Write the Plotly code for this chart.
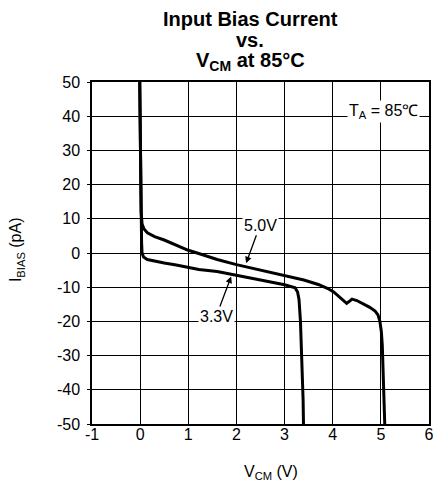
import plotly.graph_objects as go

# 5.0 V supply curve
v5_x = [-0.01, 0.0, 0.01, 0.02, 0.04, 0.08, 0.15, 0.3, 0.5, 0.75, 1.0, 1.25, 1.6, 2.0, 2.5, 3.0,
        3.4, 3.7, 3.9, 4.02, 4.15, 4.29, 4.34, 4.40, 4.5, 4.65, 4.77, 4.88, 4.94, 4.98, 5.01,
        5.03, 5.05, 5.07, 5.085]
v5_y = [52, 35, 20, 12, 8.5, 7.0, 5.9, 4.8, 3.8, 2.2, 0.8, -0.3, -1.9, -3.4, -5.0, -6.6,
        -7.9, -9.2, -10.4, -11.4, -13.0, -14.7, -14.2, -13.5, -13.9, -14.9, -15.9, -17.0, -18.1, -20, -23,
        -27, -35, -43, -52]

# 3.3 V supply curve
v33_x = [-0.01, 0.0, 0.01, 0.02, 0.03, 0.04, 0.07, 0.15, 0.3, 0.5, 0.75, 1.0, 1.22, 1.6, 2.0,
         2.5, 3.0, 3.15, 3.22, 3.27, 3.30, 3.33, 3.35, 3.37, 3.385, 3.395]
v33_y = [52, 35, 20, 10, 3, 0, -1.2, -1.9, -2.4, -2.9, -3.5, -4.2, -4.8, -5.4, -6.6,
         -7.9, -9.3, -9.8, -10.2, -11.4, -13.6, -20, -27, -35, -43, -52]

x_ticks = [-1, 0, 1, 2, 3, 4, 5, 6]
y_ticks = [-50, -40, -30, -20, -10, 0, 10, 20, 30, 40, 50]

FONT = "Liberation Sans, Arial, sans-serif"

fig = go.Figure()
fig.add_trace(go.Scatter(x=v5_x, y=v5_y, mode="lines", line=dict(color="black", width=3),
                         showlegend=False, hoverinfo="skip"))
fig.add_trace(go.Scatter(x=v33_x, y=v33_y, mode="lines", line=dict(color="black", width=3),
                         showlegend=False, hoverinfo="skip"))

axis_common = dict(showgrid=True, gridcolor="black", gridwidth=1, zeroline=False,
                   showline=True, linecolor="black", linewidth=1.5, mirror=True,
                   tickcolor="black",
                   tickfont=dict(family=FONT, size=16, color="black"))

fig.update_xaxes(range=[-1, 6], tickvals=x_ticks, ticktext=[str(t) for t in x_ticks],
                 ticks="", ticklabelstandoff=-5, **axis_common)
fig.update_yaxes(range=[-50, 50], tickvals=y_ticks, ticktext=[str(t) for t in y_ticks],
                 ticks="outside", ticklen=3, ticklabelstandoff=4, **axis_common)

def txt(text, x, y, size=16, **kw):
    d = dict(text=text, x=x, y=y, xref="paper", yref="paper", showarrow=False,
             xanchor="center", yanchor="middle",
             font=dict(family=FONT, size=size, color="black"))
    d.update(kw)
    return d

annos = [
    txt("<b>Input Bias Current</b>", 0.469, 1.184, size=20),
    txt("<b>vs.</b>", 0.469, 1.122, size=20),
    txt("<b>V<sub>CM</sub> at 85°C</b>", 0.469, 1.060, size=20),
    txt("V<sub>CM</sub> (V)", 0.532, -0.143),
    txt("I<sub>BIAS</sub> (pA)", -0.222, 0.509, textangle=-90),
    dict(text="T<sub>A</sub> = 85℃", x=5.05, y=41.5, xref="x", yref="y", showarrow=False,
         bgcolor="white", font=dict(family=FONT, size=16, color="black")),
    dict(text="5.0V", x=2.2, y=-3.0, xref="x", yref="y", ax=14, ay=-38, showarrow=True,
         arrowhead=2, arrowsize=1, arrowwidth=1.3, arrowcolor="black", standoff=0,
         bgcolor="white", font=dict(family=FONT, size=16, color="black")),
    dict(text="3.3V", x=1.89, y=-6.9, xref="x", yref="y", ax=-15, ay=40, showarrow=True,
         arrowhead=2, arrowsize=1, arrowwidth=1.3, arrowcolor="black", standoff=0,
         bgcolor="white", font=dict(family=FONT, size=16, color="black")),
]

fig.update_layout(width=437, height=473, margin=dict(l=84, r=11, t=74, b=57),
                  paper_bgcolor="white", plot_bgcolor="white", annotations=annos,
                  font=dict(family=FONT, color="black"))

fig.write_html("out.html")
